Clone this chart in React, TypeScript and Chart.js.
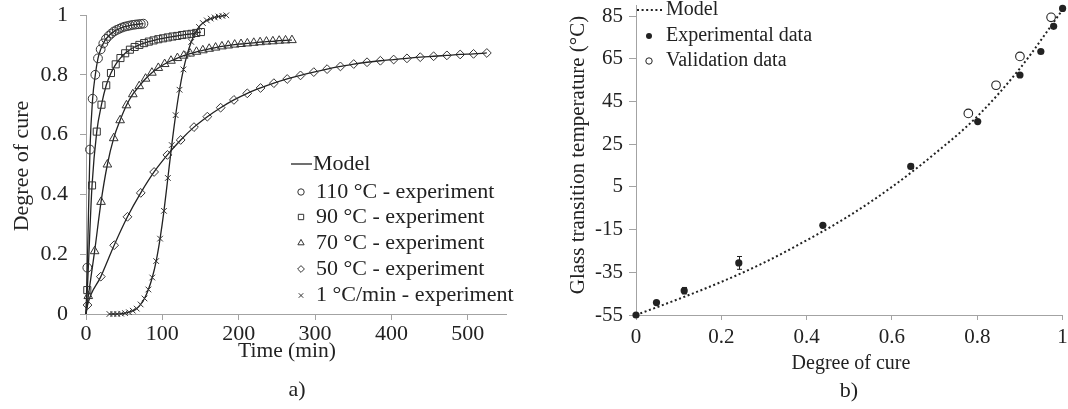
import React, { useEffect, useRef } from 'react';
import { Chart, registerables } from 'chart.js';
import { drawPoint } from 'chart.js/helpers';

Chart.register(...registerables);

const SERIF = '"Liberation Serif", "Times New Roman", serif';
Chart.defaults.font.family = SERIF;
Chart.defaults.color = '#222';

// ---- a) Degree of cure versus time ----
const time110 = [1.7, 5.2, 8.7, 12.2, 15.7, 19.2, 22.7, 26.2, 29.7, 33.2, 36.7, 40.2, 43.7, 47.2, 50.7, 54.2, 57.7, 61.2, 64.7, 68.2, 71.7, 75.2];
const cure110 = [0.155, 0.55, 0.72, 0.8, 0.855, 0.885, 0.905, 0.92, 0.93, 0.938, 0.945, 0.95, 0.954, 0.958, 0.961, 0.963, 0.965, 0.967, 0.968, 0.969, 0.97, 0.971];

const time90 = [1.7, 7.9, 14.1, 20.3, 26.5, 32.7, 38.9, 45.1, 51.3, 57.5, 63.7, 69.9, 76.1, 82.3, 88.5, 94.7, 100.9, 107.1, 113.3, 119.5, 125.7, 131.9, 138.1, 144.3, 150.5];
const cure90 = [0.08, 0.43, 0.61, 0.7, 0.765, 0.806, 0.835, 0.856, 0.872, 0.884, 0.893, 0.9, 0.906, 0.911, 0.915, 0.919, 0.922, 0.925, 0.928, 0.93, 0.933, 0.935, 0.937, 0.94, 0.943];

const time70 = [3, 11.3, 19.7, 28, 36.3, 44.7, 53, 61.3, 69.7, 78, 86.3, 94.7, 103, 111.3, 119.7, 128, 136.3, 144.7, 153, 161.3, 169.7, 178, 186.3, 194.7, 203, 211.3, 219.7, 228, 236.3, 244.7, 253, 261.3, 269.7];
const cure70 = [0.06, 0.21, 0.375, 0.5, 0.588, 0.648, 0.698, 0.735, 0.762, 0.787, 0.807, 0.823, 0.836, 0.847, 0.856, 0.864, 0.871, 0.877, 0.882, 0.887, 0.891, 0.895, 0.898, 0.901, 0.903, 0.905, 0.907, 0.909, 0.911, 0.912, 0.914, 0.915, 0.916];

const time50 = [2, 19.4, 36.9, 54.3, 71.7, 89.2, 106.6, 124, 141.4, 158.9, 176.3, 193.7, 211.2, 228.6, 246, 263.5, 280.9, 298.3, 315.7, 333.2, 350.6, 368, 385.5, 402.9, 420.3, 437.7, 455.2, 472.6, 490, 507.5, 524.9];
const cure50 = [0.03, 0.125, 0.23, 0.325, 0.405, 0.475, 0.532, 0.582, 0.625, 0.66, 0.69, 0.716, 0.738, 0.756, 0.772, 0.786, 0.798, 0.809, 0.819, 0.828, 0.836, 0.842, 0.847, 0.851, 0.855, 0.859, 0.862, 0.865, 0.868, 0.87, 0.873];

const timeRamp = [30.7, 35.8, 40.9, 46, 51.1, 56.2, 61.3, 66.4, 71.5, 76.6, 81.7, 86.8, 91.9, 97, 102.1, 107.2, 112.3, 117.4, 122.5, 127.6, 132.7, 137.8, 142.9, 148, 153.1, 158.2, 163.3, 168.4, 173.5, 178.6, 183.7];
const cureRamp = [0, 0, 0, 0.001, 0.003, 0.006, 0.011, 0.018, 0.032, 0.052, 0.082, 0.122, 0.177, 0.252, 0.345, 0.455, 0.565, 0.665, 0.75, 0.818, 0.87, 0.91, 0.94, 0.96, 0.973, 0.982, 0.988, 0.992, 0.995, 0.997, 0.999];

const timeTicks = [0, 100, 200, 300, 400, 500];
const cureTicks = [0, 0.2, 0.4, 0.6, 0.8, 1];

const seriesLabels = ['110 °C - experiment', '90 °C - experiment', '70 °C - experiment', '50 °C - experiment', '1 °C/min - experiment'];

// ---- b) Glass transition temperature versus degree of cure ----
const expCure = [0, 0.048, 0.113, 0.241, 0.438, 0.644, 0.801, 0.9, 0.949, 0.979, 1.0];
const expTg = [-55, -49.2, -43.6, -30.6, -13, 14.6, 35.6, 57.4, 68.4, 80.2, 88.6];
const expErr = [0.5, 0.8, 1.5, 3, 0.6, 1, 0.8, 0.6, 0.6, 0.6, 0.6];
const valCure = [0.779, 0.844, 0.9, 0.973];
const valTg = [39.4, 52.6, 66.1, 84.4];
const modelCure = [0, 0.1, 0.2, 0.3, 0.4, 0.5, 0.6, 0.7, 0.8, 0.9, 1];
const modelTg = [-55, -47.5, -39.5, -30.5, -20, -8.5, 5, 20.5, 38, 60.5, 88];
const tgTicks = [-55, -35, -15, 5, 25, 45, 65, 85];
const cureTicksB = [0, 0.2, 0.4, 0.6, 0.8, 1];

const AXIS = '#a3a3a3';
const INK = '#222';

const pts = (xs: number[], ys: number[]) => xs.map((x, i) => ({ x, y: ys[i] }));
const fmt = (v: number) => String(Number(Number(v).toFixed(2)));

function axis(opts: {
  min: number; max: number; ticks: number[]; size: number; tickLen: number; pad: number;
  fixed: number; horizontal: boolean;
}) {
  return {
    type: 'linear',
    min: opts.min,
    max: opts.max,
    afterBuildTicks: (s: any) => { s.ticks = opts.ticks.map((value) => ({ value })); },
    afterFit: (s: any) => {
      if (opts.horizontal) s.height = opts.fixed; else s.width = opts.fixed;
      s.paddingLeft = 0; s.paddingRight = 0; s.paddingTop = 0; s.paddingBottom = 0;
    },
    grid: { display: true, drawOnChartArea: false, drawTicks: true, tickLength: opts.tickLen, color: AXIS, lineWidth: 1 },
    border: { display: true, color: AXIS, width: 1 },
    ticks: {
      autoSkip: false, maxRotation: 0, padding: opts.pad, color: INK,
      font: { size: opts.size, family: SERIF },
      callback: (v: any) => fmt(v),
    },
  };
}

function text(ctx: CanvasRenderingContext2D, s: string, x: number, y: number, size: number, align: CanvasTextAlign = 'center', base: CanvasTextBaseline = 'middle', rot = 0) {
  ctx.save();
  ctx.font = `${size}px ${SERIF}`;
  ctx.fillStyle = INK;
  ctx.textAlign = align;
  ctx.textBaseline = base;
  ctx.translate(x, y);
  if (rot) ctx.rotate(rot);
  ctx.fillText(s, 0, 0);
  ctx.restore();
}

const markerStyles = [
  { pointStyle: 'circle', radius: 4.4, legendRadius: 3.2 },
  { pointStyle: 'rect', radius: 5, legendRadius: 3.8 },
  { pointStyle: 'triangle', radius: 5, legendRadius: 3.6 },
  { pointStyle: 'rectRot', radius: 4.4, legendRadius: 3.4 },
  { pointStyle: 'crossRot', radius: 4, legendRadius: 3.2 },
];

// Titles, panel letter and legend of panel a
const decorA = {
  id: 'decorA',
  afterDraw(chart: any) {
    const ctx: CanvasRenderingContext2D = chart.ctx;
    text(ctx, 'Degree of cure', 22, 166, 22, 'center', 'middle', -Math.PI / 2);
    text(ctx, 'Time (min)', 287, 357, 21.5, 'center', 'alphabetic');
    text(ctx, 'a)', 297, 396, 22, 'center', 'alphabetic');

    const rows = [164, 192, 217, 243, 269, 295.5];
    ctx.save();
    ctx.strokeStyle = INK;
    ctx.lineWidth = 1.3;
    ctx.beginPath();
    ctx.moveTo(291, rows[0]);
    ctx.lineTo(312, rows[0]);
    ctx.stroke();
    ctx.restore();
    text(ctx, 'Model', 313, rows[0], 22, 'left');
    seriesLabels.forEach((label, i) => {
      const m = markerStyles[i];
      ctx.save();
      ctx.strokeStyle = '#333';
      ctx.fillStyle = 'rgba(0,0,0,0)';
      ctx.lineWidth = 1;
      drawPoint(ctx, { pointStyle: m.pointStyle, radius: m.legendRadius, rotation: 0, borderWidth: 1 } as any, 301, rows[i + 1]);
      ctx.restore();
      text(ctx, label, 316, rows[i + 1], 22, 'left');
    });
  },
};

// Titles, panel letter, legend and error bars of panel b
const decorB = {
  id: 'decorB',
  afterDatasetsDraw(chart: any) {
    const ctx: CanvasRenderingContext2D = chart.ctx;
    const xs = chart.scales.x, ys = chart.scales.y;
    ctx.save();
    ctx.strokeStyle = INK;
    ctx.lineWidth = 1;
    expCure.forEach((c, i) => {
      if (expErr[i] < 1) return;
      const px = Math.round(xs.getPixelForValue(c)) + 0.5;
      const t = ys.getPixelForValue(expTg[i] + expErr[i]);
      const b = ys.getPixelForValue(expTg[i] - expErr[i]);
      ctx.beginPath();
      ctx.moveTo(px, t); ctx.lineTo(px, b);
      ctx.moveTo(px - 2.5, t); ctx.lineTo(px + 2.5, t);
      ctx.moveTo(px - 2.5, b); ctx.lineTo(px + 2.5, b);
      ctx.stroke();
    });
    ctx.restore();
  },
  afterDraw(chart: any) {
    const ctx: CanvasRenderingContext2D = chart.ctx;
    const ox = -545;
    text(ctx, 'Glass transition temperature (°C)', 578 + ox, 155, 21, 'center', 'middle', -Math.PI / 2);
    text(ctx, 'Degree of cure', 851 + ox, 369, 20, 'center', 'alphabetic');
    text(ctx, 'b)', 849 + ox, 397, 22, 'center', 'alphabetic');

    ctx.save();
    ctx.strokeStyle = INK;
    ctx.lineWidth = 2;
    ctx.setLineDash([2, 2.6]);
    ctx.beginPath();
    ctx.moveTo(637 + ox, 10);
    ctx.lineTo(664 + ox, 10);
    ctx.stroke();
    ctx.restore();
    text(ctx, 'Model', 666 + ox, 10, 20, 'left');

    ctx.save();
    ctx.fillStyle = INK;
    ctx.strokeStyle = INK;
    ctx.lineWidth = 1;
    ctx.beginPath();
    ctx.arc(649 + ox, 36, 3, 0, Math.PI * 2);
    ctx.fill();
    ctx.beginPath();
    ctx.arc(649 + ox, 61, 3.2, 0, Math.PI * 2);
    ctx.fillStyle = '#fff';
    ctx.fill();
    ctx.stroke();
    ctx.restore();
    text(ctx, 'Experimental data', 666 + ox, 36, 20, 'left');
    text(ctx, 'Validation data', 666 + ox, 61, 20, 'left');
  },
};

function modelLine(data: { x: number; y: number }[]) {
  return {
    type: 'scatter',
    label: 'Model',
    data,
    showLine: true,
    borderColor: INK,
    borderWidth: 1.3,
    pointRadius: 0,
    cubicInterpolationMode: 'monotone',
    clip: false,
    order: 2,
  };
}

function markers(i: number, data: { x: number; y: number }[]) {
  const m = markerStyles[i];
  return {
    type: 'scatter',
    label: seriesLabels[i],
    data,
    showLine: false,
    pointStyle: m.pointStyle,
    pointRadius: m.radius,
    pointBorderWidth: 1,
    pointBorderColor: '#333',
    pointBackgroundColor: 'rgba(0,0,0,0)',
    clip: false,
    order: 1,
  };
}

function configA(): any {
  const sets = [
    pts(time110, cure110),
    pts(time90, cure90),
    pts(time70, cure70),
    pts(time50, cure50),
    pts(timeRamp, cureRamp),
  ];
  const origin = { x: 0, y: 0 };
  return {
    type: 'scatter',
    data: {
      datasets: [
        modelLine([origin, ...sets[0]]),
        modelLine([origin, ...sets[1]]),
        modelLine([origin, ...sets[2]]),
        modelLine([origin, ...sets[3]]),
        modelLine(sets[4]),
        ...sets.map((d, i) => markers(i, d)),
      ],
    },
    options: {
      responsive: false,
      animation: false,
      events: [],
      layout: { padding: { left: 0, right: 39, top: 15, bottom: 0 } },
      plugins: { legend: { display: false }, tooltip: { enabled: false }, title: { display: false } },
      scales: {
        x: axis({ min: 0, max: 550, ticks: timeTicks, size: 22, tickLen: 6, pad: 1, fixed: 95, horizontal: true }),
        y: axis({ min: 0, max: 1, ticks: cureTicks, size: 22, tickLen: 6, pad: 12, fixed: 86, horizontal: false }),
      },
    },
    plugins: [decorA],
  };
}

function configB(): any {
  return {
    type: 'scatter',
    data: {
      datasets: [
        {
          label: 'Model',
          data: pts(modelCure, modelTg),
          showLine: true,
          borderColor: INK,
          borderWidth: 2,
          borderDash: [2, 2.6],
          pointRadius: 0,
          cubicInterpolationMode: 'monotone',
          clip: false,
          order: 3,
        },
        {
          label: 'Experimental data',
          data: pts(expCure, expTg),
          showLine: false,
          pointStyle: 'circle',
          pointRadius: 3.6,
          pointBorderWidth: 0,
          pointBackgroundColor: INK,
          clip: false,
          order: 1,
        },
        {
          label: 'Validation data',
          data: pts(valCure, valTg),
          showLine: false,
          pointStyle: 'circle',
          pointRadius: 4.3,
          pointBorderWidth: 1.1,
          pointBorderColor: INK,
          pointBackgroundColor: '#fff',
          clip: false,
          order: 2,
        },
      ],
    },
    options: {
      responsive: false,
      animation: false,
      events: [],
      layout: { padding: { left: 0, right: 1, top: 3, bottom: 0 } },
      plugins: { legend: { display: false }, tooltip: { enabled: false }, title: { display: false } },
      scales: {
        x: axis({ min: 0, max: 1, ticks: cureTicksB, size: 21, tickLen: 5, pad: 5, fixed: 94, horizontal: true }),
        y: axis({ min: -55, max: 90, ticks: tgTicks, size: 21, tickLen: 7, pad: 6, fixed: 91, horizontal: false }),
      },
    },
    plugins: [decorB],
  };
}

export default function App() {
  const refA = useRef<HTMLCanvasElement>(null);
  const refB = useRef<HTMLCanvasElement>(null);

  useEffect(() => {
    const a = new Chart(refA.current as HTMLCanvasElement, configA());
    const b = new Chart(refB.current as HTMLCanvasElement, configB());
    return () => {
      a.destroy();
      b.destroy();
    };
  }, []);

  return (
    <div style={{ position: 'fixed', left: 0, top: 0, width: 1068, height: 409, background: '#fff' }}>
      <canvas ref={refA} width={545} height={409} style={{ position: 'absolute', left: 0, top: 0, width: 545, height: 409 }} />
      <canvas ref={refB} width={523} height={409} style={{ position: 'absolute', left: 545, top: 0, width: 523, height: 409 }} />
    </div>
  );
}
